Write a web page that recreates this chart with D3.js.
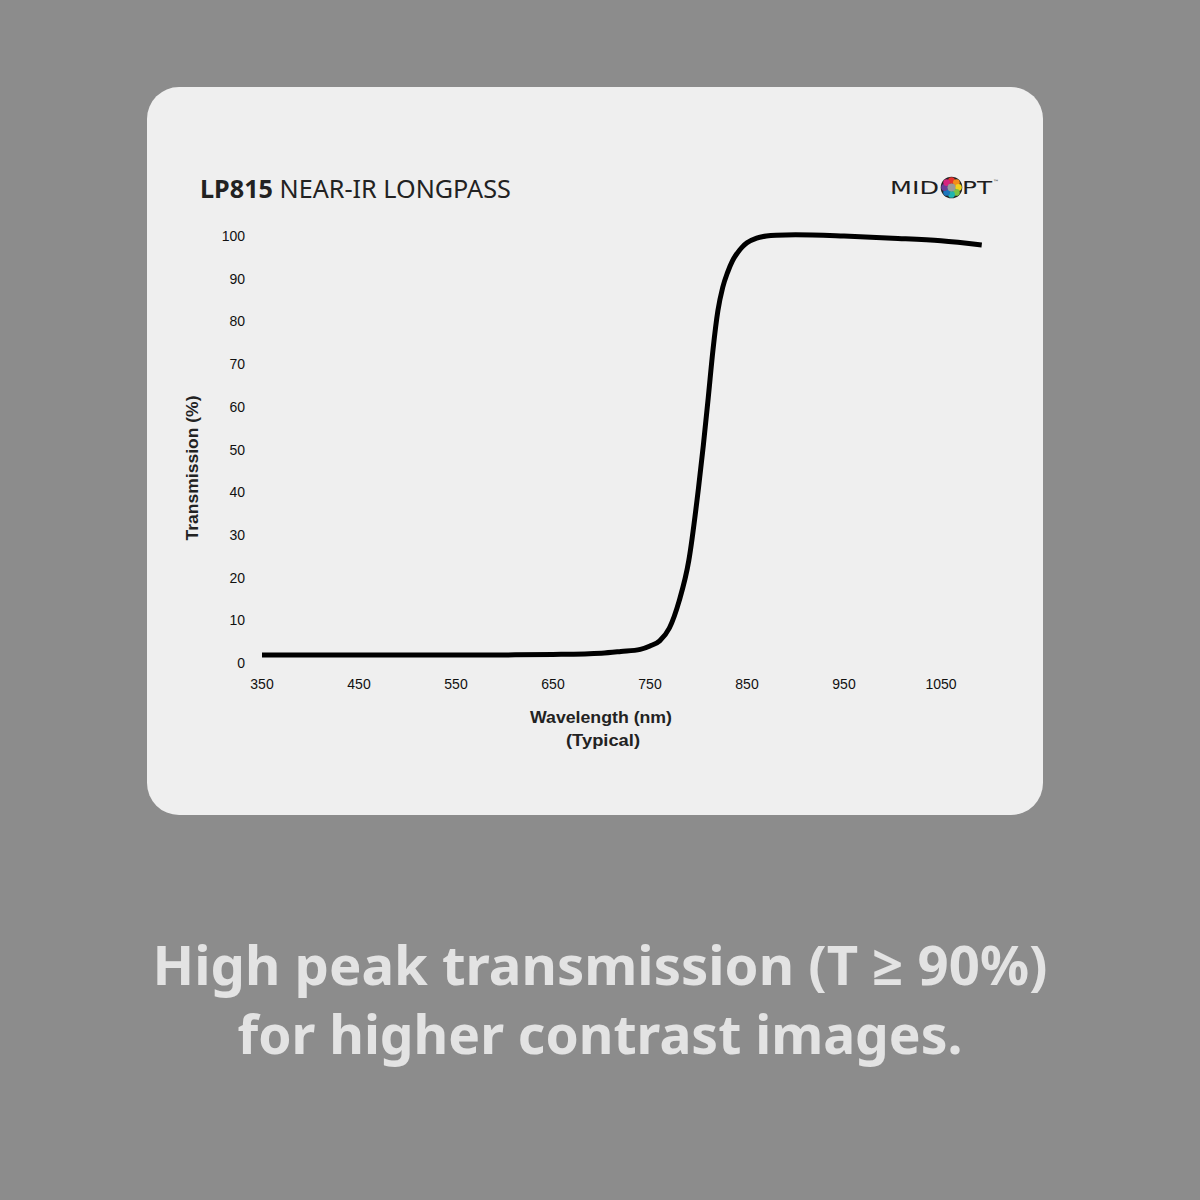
<!DOCTYPE html>
<html><head><meta charset="utf-8">
<script src="https://cdn.jsdelivr.net/npm/d3@7"></script>
<style>html,body{margin:0;padding:0;background:#8c8c8c;}svg{display:block;}</style>
</head><body>
<svg id="c" width="1200" height="1200"></svg>
<script>
const wavelengths = [350,400,450,500,550,600,650,700,720,740,750,760,770,780,790,800,805,810,815,820,825,830,835,840,845,850,860,870,880,900,950,1000,1050,1092];
const transmission = [1.9,1.9,1.9,1.9,1.9,1.9,2.0,2.3,2.7,3.2,4.0,5.2,8.2,14.5,24,41,51,62,73.5,82.5,88,91.5,94.2,96,97.4,98.4,99.5,100,100.2,100.3,100,99.5,98.9,97.9];
const xTicks = [350,450,550,650,750,850,950,1050];
const yTicks = [0,10,20,30,40,50,60,70,80,90,100];
const logoColors = ["#e5322d","#f28c1c","#f2d21b","#7cc242","#1fb5b0","#1b75bb","#6a3d98","#d6247f"];

const svg = d3.select("#c");
svg.append("rect").attr("width",1200).attr("height",1200).attr("fill","#8c8c8c");
svg.append("rect").attr("x",147).attr("y",87).attr("width",896).attr("height",728).attr("rx",32).attr("fill","#efefef");

const x = d3.scaleLinear().domain([350,1050]).range([262,941]);
const y = d3.scaleLinear().domain([0,100]).range([663,236]);

// title
const t = svg.append("text").attr("x",200).attr("y",198).attr("font-family","'Noto Sans', sans-serif").attr("font-size",25.2).attr("fill","#222");
t.append("tspan").attr("font-weight","bold").text("LP815");
t.append("tspan").text(" NEAR-IR LONGPASS");

// logo
const lg = svg.append("g").attr("font-family","'DejaVu Sans', sans-serif").attr("fill","#1e1e1e");
lg.append("text").attr("x",890).attr("y",194).attr("font-size",18.5)
  .attr("textLength",49).attr("lengthAdjust","spacingAndGlyphs").text("MID");
lg.append("text").attr("x",962).attr("y",194).attr("font-size",18.5)
  .attr("textLength",30).attr("lengthAdjust","spacingAndGlyphs").text("PT");
lg.append("text").attr("x",993).attr("y",184).attr("font-size",6).text("™");
const cx = 951.5, cy = 187.5;
lg.append("circle").attr("cx",cx).attr("cy",cy).attr("r",10.8).attr("fill","#222");
lg.selectAll("circle.d").data(logoColors).join("circle").attr("class","d")
  .attr("cx",(d,i)=>cx+6.9*Math.sin(i*Math.PI/4)).attr("cy",(d,i)=>cy-6.9*Math.cos(i*Math.PI/4))
  .attr("r",3.4).attr("fill",d=>d);
lg.append("circle").attr("cx",cx).attr("cy",cy).attr("r",4).attr("fill","#9a9a9a");

// axes labels
const lab = "'Liberation Sans', Arial, sans-serif";
svg.append("g").selectAll("text").data(yTicks).join("text")
  .attr("x",245).attr("y",d=>y(d)+5).attr("text-anchor","end")
  .attr("font-family",lab).attr("font-size",14).attr("fill","#111").text(d=>d);
svg.append("g").selectAll("text").data(xTicks).join("text")
  .attr("x",d=>x(d)).attr("y",689).attr("text-anchor","middle")
  .attr("font-family",lab).attr("font-size",14).attr("fill","#111").text(d=>d);

svg.append("text").attr("transform","translate(198,468) rotate(-90)").attr("text-anchor","middle")
  .attr("font-family",lab).attr("font-weight","bold").attr("font-size",16).attr("fill","#222")
  .attr("textLength",145).attr("lengthAdjust","spacingAndGlyphs").text("Transmission (%)");
svg.append("text").attr("x",601).attr("y",723).attr("text-anchor","middle")
  .attr("font-family",lab).attr("font-weight","bold").attr("font-size",17).attr("fill","#222")
  .attr("textLength",142).attr("lengthAdjust","spacingAndGlyphs").text("Wavelength (nm)");
svg.append("text").attr("x",603).attr("y",746).attr("text-anchor","middle")
  .attr("font-family",lab).attr("font-weight","bold").attr("font-size",17).attr("fill","#222")
  .attr("textLength",74).attr("lengthAdjust","spacingAndGlyphs").text("(Typical)");

// curve
const data = wavelengths.map((w,i)=>({w, v:transmission[i]}));
const line = d3.line().x(d=>x(d.w)).y(d=>y(d.v)).curve(d3.curveMonotoneX);
svg.append("path").datum(data).attr("d",line).attr("fill","none").attr("stroke","#000").attr("stroke-width",5);

// bottom text
const bt = "'Noto Sans', 'Open Sans', sans-serif";
svg.append("text").attr("x",600).attr("y",985).attr("text-anchor","middle").attr("font-family",bt)
  .attr("font-weight","bold").attr("font-size",54).attr("fill","#e3e3e3")
  .attr("textLength",895).attr("lengthAdjust","spacingAndGlyphs").text("High peak transmission (T ≥ 90%)");
svg.append("text").attr("x",600).attr("y",1054).attr("text-anchor","middle").attr("font-family",bt)
  .attr("font-weight","bold").attr("font-size",54).attr("fill","#e3e3e3")
  .attr("textLength",725).attr("lengthAdjust","spacingAndGlyphs").text("for higher contrast images.");
</script>
</body></html>
